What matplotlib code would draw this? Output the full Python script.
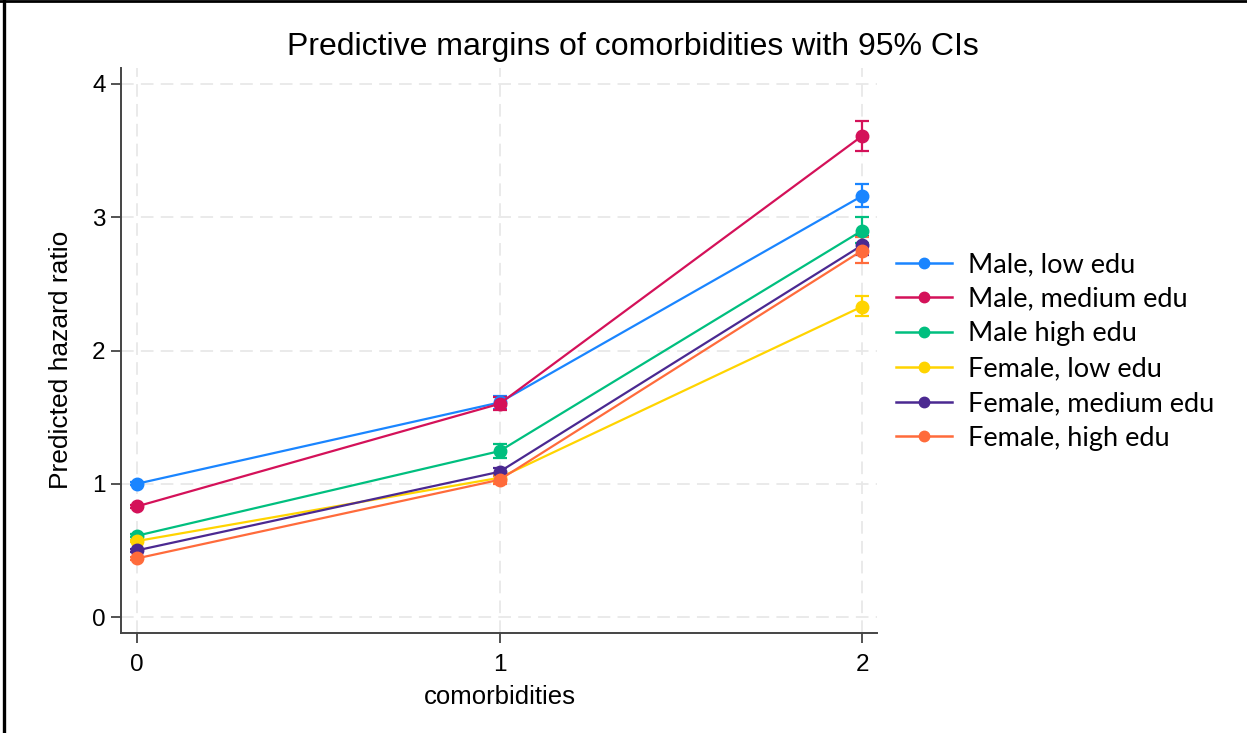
import matplotlib
matplotlib.use("Agg")
import matplotlib.pyplot as plt
from matplotlib.lines import Line2D
import numpy as np

# Data: predictive margins by number of comorbidities
comorbidities = [0, 1, 2]
series_labels = ["Male, low edu", "Male, medium edu", "Male high edu",
                 "Female, low edu", "Female, medium edu", "Female, high edu"]
colors = ["#1A85FF", "#D41159", "#00BF7F", "#FFD400", "#4B2991", "#FF6B3B"]

male_low = [1.00, 1.61, 3.16]
male_low_lo = [0.99, 1.56, 3.08]
male_low_hi = [1.01, 1.66, 3.25]

male_med = [0.83, 1.60, 3.61]
male_med_lo = [0.82, 1.55, 3.50]
male_med_hi = [0.84, 1.65, 3.72]

male_high = [0.61, 1.245, 2.90]
male_high_lo = [0.60, 1.19, 2.81]
male_high_hi = [0.62, 1.30, 3.00]

female_low = [0.57, 1.045, 2.33]
female_low_lo = [0.56, 1.015, 2.26]
female_low_hi = [0.58, 1.075, 2.41]

female_med = [0.50, 1.09, 2.79]
female_med_lo = [0.49, 1.06, 2.72]
female_med_hi = [0.51, 1.12, 2.86]

female_high = [0.44, 1.03, 2.75]
female_high_lo = [0.43, 1.00, 2.66]
female_high_hi = [0.45, 1.06, 2.85]

estimates = [male_low, male_med, male_high, female_low, female_med, female_high]
lowers = [male_low_lo, male_med_lo, male_high_lo, female_low_lo, female_med_lo, female_high_lo]
uppers = [male_low_hi, male_med_hi, male_high_hi, female_low_hi, female_med_hi, female_high_hi]

y_ticks = [0, 1, 2, 3, 4]

W, H = 1247, 733
SANS = "Liberation Sans"
fig = plt.figure(figsize=(W / 100, H / 100), dpi=100)
ax = fig.add_axes([121 / W, 1 - 633 / H, (877 - 121) / W, (633 - 68) / H])

for est, lo, hi, col, lab in zip(estimates, lowers, uppers, colors, series_labels):
    est = np.asarray(est)
    yerr = np.vstack([est - np.asarray(lo), np.asarray(hi) - est])
    ax.errorbar(comorbidities, est, yerr=yerr, color=col, linewidth=1.6,
                marker="o", markersize=9, capsize=5, capthick=1.6,
                elinewidth=1.6, label=lab)

ax.set_xlim(-0.044, 2.041)
ax.set_ylim(-0.12, 4.12)
ax.set_xticks(comorbidities)
ax.set_yticks(y_ticks)

for side in ["top", "right"]:
    ax.spines[side].set_visible(False)
for side in ["left", "bottom"]:
    ax.spines[side].set_color("#444444")
    ax.spines[side].set_linewidth(1.4)

ax.tick_params(axis="y", direction="out", length=7, width=1.3, color="#444444",
               labelsize=17.5, pad=4)
ax.tick_params(axis="x", direction="out", length=7, width=1.3, color="#444444",
               labelsize=17.5, pad=8)

ax.grid(True, color="#e8e8e8", linestyle=(0, (7, 4)), linewidth=1.3)
ax.set_axisbelow(True)

for lbl in ax.get_xticklabels() + ax.get_yticklabels():
    lbl.set_family(SANS)

fig.text(633 / W, 1 - 47 / H, "Predictive margins of comorbidities with 95% CIs",
         fontsize=23, family=SANS, ha="center", va="center")
fig.text(500 / W, 1 - 697 / H, "comorbidities", fontsize=18.5, family=SANS,
         ha="center", va="center")
fig.text(61 / W, 1 - 360 / H, "Predicted hazard ratio", fontsize=19, family=SANS,
         ha="center", va="center", rotation=90)

handles = [Line2D([0], [0], color=c, linewidth=1.8, marker="o", markersize=7.5)
           for c in colors]
leg = fig.legend(handles, series_labels, loc="upper left",
                 bbox_to_anchor=(896 / W, 1 - 252 / H), frameon=False,
                 prop={"family": "Lato", "size": 19.5}, handlelength=2.05,
                 handletextpad=0.6, labelspacing=0.36, borderaxespad=0,
                 borderpad=0)

# Page frame lines along the left and top edges
fig.add_artist(Line2D([3.5 / W, 3.5 / W], [0, 1], color="black", linewidth=2.4,
                      transform=fig.transFigure))
fig.add_artist(Line2D([0, 1], [1 - 1 / H, 1 - 1 / H], color="black", linewidth=2.0,
                      transform=fig.transFigure))

fig.savefig("out.png", dpi=100)
